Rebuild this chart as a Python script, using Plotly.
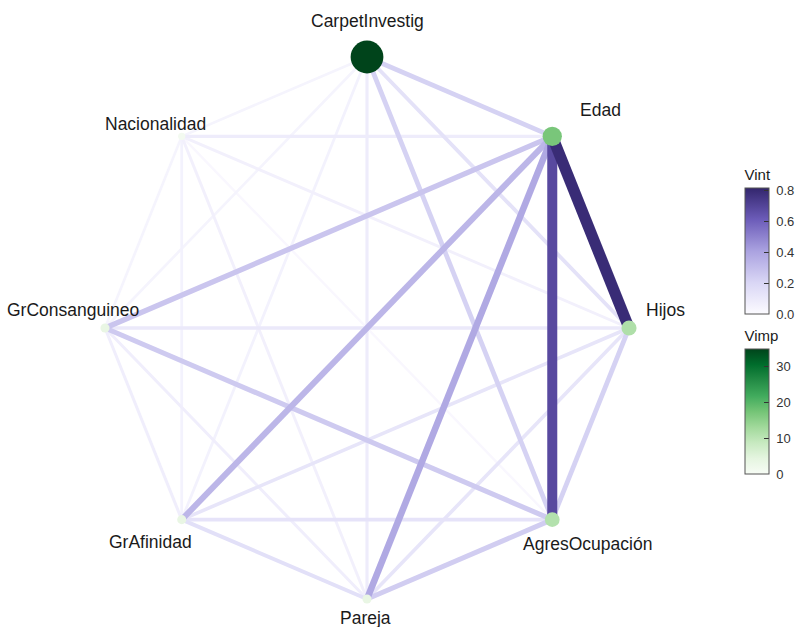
import math
import plotly.graph_objects as go
from plotly.colors import sample_colorscale

# ---------------- data ----------------
nodes = ["CarpetInvestig", "Edad", "Hijos", "AgresOcupación", "Pareja",
         "GrAfinidad", "GrConsanguineo", "Nacionalidad"]
vimp = [35.0, 17.0, 11.5, 11.0, 3.5, 3.5, 3.5, 1.0]

edge_from = ["CarpetInvestig", "CarpetInvestig", "CarpetInvestig", "CarpetInvestig", "CarpetInvestig",
             "CarpetInvestig", "CarpetInvestig",
             "Edad", "Edad", "Edad", "Edad", "Edad", "Edad",
             "Hijos", "Hijos", "Hijos", "Hijos", "Hijos",
             "AgresOcupación", "AgresOcupación", "AgresOcupación", "AgresOcupación",
             "Pareja", "Pareja", "Pareja",
             "GrAfinidad", "GrAfinidad",
             "GrConsanguineo"]
edge_to = ["Edad", "Hijos", "AgresOcupación", "Pareja", "GrAfinidad", "GrConsanguineo", "Nacionalidad",
           "Hijos", "AgresOcupación", "Pareja", "GrAfinidad", "GrConsanguineo", "Nacionalidad",
           "AgresOcupación", "Pareja", "GrAfinidad", "GrConsanguineo", "Nacionalidad",
           "Pareja", "GrAfinidad", "GrConsanguineo", "Nacionalidad",
           "GrAfinidad", "GrConsanguineo", "Nacionalidad",
           "GrConsanguineo", "Nacionalidad",
           "Nacionalidad"]
vint = [0.22, 0.14, 0.22, 0.08, 0.05, 0.04, 0.04,
        0.79, 0.68, 0.38, 0.33, 0.27, 0.08,
        0.22, 0.12, 0.12, 0.10, 0.06,
        0.24, 0.13, 0.25, 0.02,
        0.15, 0.07, 0.06,
        0.07, 0.05,
        0.04]

vint_ticks = [0.0, 0.2, 0.4, 0.6, 0.8]
vint_ticklabels = ["0.0", "0.2", "0.4", "0.6", "0.8"]
vimp_ticks = [0, 10, 20, 30]
vimp_ticklabels = ["0", "10", "20", "30"]

# ---------------- style ----------------
VINT_MAX = 0.813
VIMP_MAX = 35.0
purples = [[0.0, "#fcfbff"], [0.25, "#d9d6f5"], [0.5, "#aaa2e0"],
           [0.75, "#6c5cb9"], [1.0, "#33266d"]]
greens = [[0.0, "#f7fcf5"], [0.125, "#e5f5e0"], [0.25, "#c7e9c0"], [0.375, "#a1d99b"],
          [0.5, "#74c476"], [0.625, "#41ab5d"], [0.75, "#238b45"], [0.875, "#006d2c"],
          [1.0, "#00441b"]]
# label offsets in pixels (dx right, dy down)
label_dx = [0, 48, 36, 35, -2, -31, -32, -26]
label_dy = [-36, -26, -18, 24, 19, 22, -18, -12]

W, H = 797, 627
CX, CY, RX, RY = 367, 328, 262, 271  # circle in pixels

# unit circle positions, clockwise from top
n = len(nodes)
pos = {}
for i, name in enumerate(nodes):
    ang = math.pi / 2 - 2 * math.pi * i / n
    pos[name] = (math.cos(ang), math.sin(ang))

x_range = [(0 - CX) / RX, (W - CX) / RX]
y_range = [(CY - H) / RY, (CY - 0) / RY]

fig = go.Figure()

# edges, weakest first
order = sorted(range(len(vint)), key=lambda k: vint[k])
for k in order:
    a, b = pos[edge_from[k]], pos[edge_to[k]]
    v = vint[k]
    col = sample_colorscale(purples, [min(v / VINT_MAX, 1.0)])[0]
    fig.add_trace(go.Scatter(
        x=[a[0], b[0]], y=[a[1], b[1]], mode="lines",
        line=dict(color=col, width=2.2 + 11.5 * v),
        hoverinfo="skip", showlegend=False))

NB = "\u00a0"
cb_common = dict(x=745 / W, xanchor="left", xpad=0, yanchor="top", ypad=0,
                 lenmode="pixels", thickness=24, ticks="inside", ticklen=5,
                 tickcolor="#333", tickfont=dict(size=13, color="#333"),
                 outlinewidth=1, outlinecolor="#555")

# dummy trace for Vint colorbar
fig.add_trace(go.Scatter(
    x=[None], y=[None], mode="markers", showlegend=False, hoverinfo="skip",
    marker=dict(color=[0], cmin=0, cmax=VINT_MAX, colorscale=purples, showscale=True,
                colorbar=dict(
                    title=dict(text="Vint", side="top", font=dict(size=15, color="#1a1a1a")),
                    y=1 - 166 / H, len=148,
                    tickvals=vint_ticks, ticktext=[NB + t for t in vint_ticklabels],
                    **cb_common))))

# nodes
fig.add_trace(go.Scatter(
    x=[pos[nm][0] for nm in nodes], y=[pos[nm][1] for nm in nodes],
    mode="markers", showlegend=False, hovertext=nodes, hoverinfo="text",
    marker=dict(size=[6.5 + 0.75 * v for v in vimp], color=vimp, cmin=0, cmax=VIMP_MAX,
                opacity=1, colorscale=greens, line=dict(width=0), showscale=True,
                colorbar=dict(
                    title=dict(text="Vimp", side="top", font=dict(size=15, color="#1a1a1a")),
                    y=1 - 327 / H, len=147,
                    tickvals=vimp_ticks, ticktext=[NB + t for t in vimp_ticklabels],
                    **cb_common))))

# labels
for i, nm in enumerate(nodes):
    x0, y0 = pos[nm]
    fig.add_annotation(
        x=x0 + label_dx[i] / RX, y=y0 - label_dy[i] / RY, text=nm,
        showarrow=False, xanchor="center", yanchor="middle",
        font=dict(family="Liberation Sans, Arial, sans-serif", size=17.5, color="#1a1a1a"))

fig.update_layout(
    width=W, height=H, autosize=False,
    margin=dict(l=0, r=0, t=0, b=0, autoexpand=False),
    paper_bgcolor="white", plot_bgcolor="white",
    font=dict(family="Liberation Sans, Arial, sans-serif"),
    xaxis=dict(range=x_range, visible=False, showgrid=False, zeroline=False),
    yaxis=dict(range=y_range, visible=False, showgrid=False, zeroline=False),
)

fig.write_html("out.html", config={"displayModeBar": False},
               post_script="document.body.style.margin='0';document.body.style.overflow='hidden';")
